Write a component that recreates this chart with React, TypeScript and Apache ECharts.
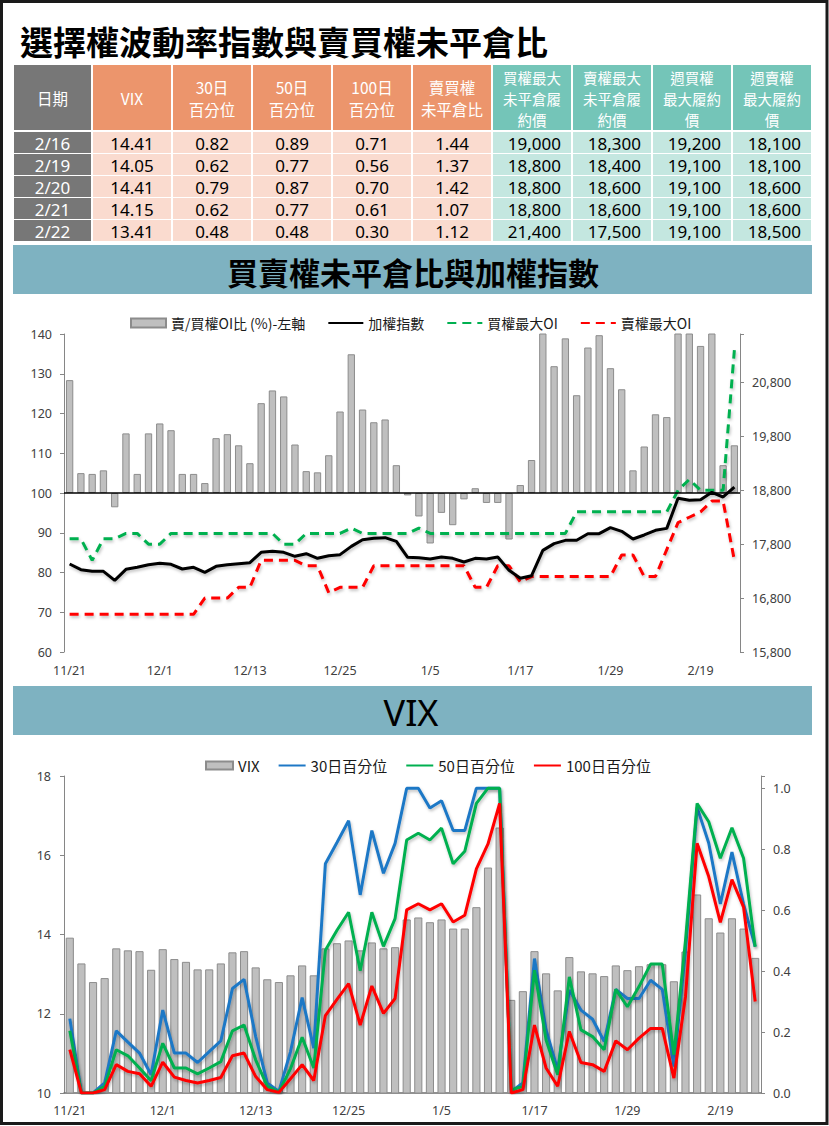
import { useEffect, useRef } from 'react';
import * as echarts from 'echarts';

// ---------- data ----------
const dates = ['11/21','11/22','11/23','11/24','11/27','11/28','11/29','11/30','12/1','12/4','12/5','12/6','12/7','12/8','12/11','12/12','12/13','12/14','12/15','12/18','12/19','12/20','12/21','12/22','12/25','12/26','12/27','12/28','12/29','1/2','1/3','1/4','1/5','1/8','1/9','1/10','1/11','1/12','1/15','1/16','1/17','1/18','1/19','1/22','1/23','1/24','1/25','1/26','1/29','1/30','1/31','2/1','2/2','2/5','2/15','2/16','2/19','2/20','2/21','2/22'];

const putCallRatio = [128.4,105.0,104.8,105.7,96.4,115.0,104.8,115.0,117.5,115.8,
  104.8,104.8,102.5,113.8,114.8,112.0,107.5,122.6,125.8,124.3,
  112.2,105.5,105.2,109.5,120.5,134.9,121.0,117.8,118.5,107.0,
  99.4,94.1,87.3,95.0,91.9,98.4,101.2,97.5,97.5,88.3,
  102.0,108.3,145.0,131.9,138.9,124.6,136.6,139.7,131.4,126.1,
  105.7,111.7,119.8,119.1,150.0,144.0,137.0,142.0,107.0,112.0];

const taiex = [17433,17327,17297,17297,17130,17334,17371,17420,17445,17426,
  17340,17371,17278,17389,17420,17439,17457,17649,17668,17649,
  17575,17624,17538,17587,17606,17760,17884,17909,17921,17853,
  17556,17550,17525,17562,17538,17470,17538,17525,17562,17315,
  17167,17216,17686,17810,17872,17872,17995,17995,18107,18039,
  17896,17971,18057,18094,18651,18614,18626,18762,18676,18861];

const callMaxOI = [17900,17900,17500,17900,17900,18000,18000,17800,17800,18000,
  18000,18000,18000,18000,18000,18000,18000,18000,18000,17800,
  17800,18000,18000,18000,18000,18100,18000,18000,18000,18000,
  18000,18100,18000,18000,18000,18000,18000,18000,18000,18000,
  18000,18000,18000,18000,18000,18400,18400,18400,18400,18400,
  18400,18400,18400,18400,18800,19000,18800,18800,18800,21400];

const putMaxOI = [16500,16500,16500,16500,16500,16500,16500,16500,16500,16500,
  16500,16500,16800,16800,16800,17000,17000,17500,17500,17500,
  17500,17400,17400,16900,17000,17000,17000,17400,17400,17400,
  17400,17400,17400,17400,17400,17400,17000,17000,17400,17400,
  17100,17200,17200,17200,17200,17200,17200,17200,17200,17600,
  17600,17200,17200,17700,18200,18300,18400,18600,18600,17500];

const vix = [13.92,13.27,12.80,12.90,13.65,13.60,13.58,13.11,13.63,13.38,
  13.31,13.12,13.12,13.27,13.55,13.58,13.17,12.87,12.80,12.97,
  13.22,12.97,13.65,13.78,13.85,13.60,13.80,13.65,13.68,14.38,
  14.43,14.31,14.38,14.15,14.15,14.69,15.69,16.70,12.35,12.57,
  13.58,13.02,12.59,13.43,13.07,13.02,12.95,13.22,13.10,13.20,
  13.25,13.25,12.82,13.57,15.01,14.41,14.05,14.41,14.15,13.41];

const pct30 = [0.244,0,0,0.033,0.204,0.167,0.131,0.06,0.272,0.131,
  0.131,0.10,0.136,0.171,0.343,0.373,0.185,0.033,0.005,0.136,
  0.313,0.147,0.752,0.822,0.893,0.650,0.861,0.721,0.819,1.0,
  1.0,0.935,0.959,0.861,0.861,1.0,1.0,1.0,0.005,0.033,
  0.441,0.207,0.076,0.338,0.272,0.242,0.169,0.340,0.310,0.310,
  0.370,0.340,0.087,0.47,0.937,0.82,0.62,0.79,0.62,0.48];

const pct50 = [0.204,0,0,0.022,0.142,0.122,0.082,0.04,0.163,0.082,
  0.082,0.063,0.082,0.103,0.204,0.223,0.109,0.022,0.003,0.08,
  0.183,0.082,0.468,0.534,0.593,0.401,0.593,0.481,0.572,0.830,
  0.852,0.830,0.869,0.752,0.793,0.95,1.0,1.0,0.01,0.022,
  0.403,0.174,0.06,0.381,0.207,0.185,0.142,0.340,0.283,0.349,
  0.423,0.423,0.125,0.50,0.95,0.89,0.77,0.87,0.77,0.48];

const pct100 = [0.142,0,0,0.011,0.093,0.071,0.063,0.022,0.101,0.052,
  0.041,0.033,0.041,0.051,0.122,0.131,0.054,0.011,0.002,0.047,
  0.093,0.041,0.254,0.307,0.359,0.223,0.351,0.261,0.310,0.601,
  0.621,0.601,0.621,0.561,0.583,0.735,0.817,0.95,0,0.011,
  0.223,0.082,0.022,0.202,0.10,0.093,0.071,0.171,0.142,0.18,
  0.212,0.212,0.049,0.316,0.819,0.71,0.56,0.70,0.61,0.30];

// table
const tableHeaders = ['日期','VIX','30日\n百分位','50日\n百分位','100日\n百分位','賣買權\n未平倉比','買權最大\n未平倉履\n約價','賣權最大\n未平倉履\n約價','週買權\n最大履約\n價','週賣權\n最大履約\n價'];
const tableDates = ['2/16','2/19','2/20','2/21','2/22'];
const tableVix = ['14.41','14.05','14.41','14.15','13.41'];
const table30 = ['0.82','0.62','0.79','0.62','0.48'];
const table50 = ['0.89','0.77','0.87','0.77','0.48'];
const table100 = ['0.71','0.56','0.70','0.61','0.30'];
const tablePCR = ['1.44','1.37','1.42','1.07','1.12'];
const tableCallMax = ['19,000','18,800','18,800','18,800','21,400'];
const tablePutMax = ['18,300','18,400','18,600','18,600','17,500'];
const tableWeekCall = ['19,200','19,100','19,100','19,100','19,100'];
const tableWeekPut = ['18,100','18,100','18,600','18,600','18,500'];

const titleText = '選擇權波動率指數與賣買權未平倉比';
const band1Text = '買賣權未平倉比與加權指數';
const band2Text = 'VIX';

// ---------- styling / layout ----------
const CJK = '"Noto Sans CJK TC", "Noto Sans", sans-serif';
const NUM = '"Noto Sans", "Noto Sans CJK TC", sans-serif';
const colX = [13, 92, 172, 252, 332, 412, 492, 572, 652, 732, 812];
const rowY = [65, 131, 153, 175, 197, 219, 241];
const GRAY_H = '#777777';
const ORANGE_H = '#EC956C';
const ORANGE_C = '#FADBCF';
const TEAL_H = '#74C5B8';
const TEAL_C = '#C4E7E0';
const BAND = '#7EB2C1';
const AXIS = '#868686';
const LABEL = '#404040';

function buildGraphic() {
  const els: any[] = [];
  const cols = [tableDates, tableVix, table30, table50, table100, tablePCR, tableCallMax, tablePutMax, tableWeekCall, tableWeekPut];
  els.push({
    type: 'text', left: 20, top: 24,
    style: { text: titleText, fontSize: 33, fontWeight: 'bold', fontFamily: CJK, fill: '#000' },
  });
  for (let c = 0; c < cols.length; c++) {
    const hColor = c === 0 ? GRAY_H : c <= 5 ? ORANGE_H : TEAL_H;
    const cColor = c === 0 ? GRAY_H : c <= 5 ? ORANGE_C : TEAL_C;
    const x0 = colX[c] + 1;
    const w = colX[c + 1] - colX[c] - 2;
    els.push({ type: 'rect', shape: { x: x0, y: rowY[0], width: w, height: rowY[1] - rowY[0] - 1 }, style: { fill: hColor } });
    const lines = tableHeaders[c].split('\n');
    const lh = lines.length === 3 ? 21 : 22;
    const fs = lines.length === 3 ? 14.5 : 15.5;
    const cy = (rowY[0] + rowY[1]) / 2;
    lines.forEach((ln, k) => {
      els.push({
        type: 'text',
        style: {
          text: ln, x: (colX[c] + colX[c + 1]) / 2, y: cy + (k - (lines.length - 1) / 2) * lh,
          align: 'center', verticalAlign: 'middle', textAlign: 'center', textVerticalAlign: 'middle',
          fill: '#fff', fontSize: fs, fontFamily: CJK,
        },
      });
    });
    for (let r = 0; r < cols[c].length; r++) {
      const y0 = rowY[r + 1] + 1;
      const h = rowY[r + 2] - rowY[r + 1] - 1;
      els.push({ type: 'rect', shape: { x: x0, y: y0, width: w, height: h }, style: { fill: cColor } });
      const right = c >= 6;
      els.push({
        type: 'text',
        style: {
          text: cols[c][r], x: right ? colX[c + 1] - 11 : (colX[c] + colX[c + 1]) / 2, y: y0 + h / 2 + 0.5,
          align: right ? 'right' : 'center', verticalAlign: 'middle',
          textAlign: right ? 'right' : 'center', textVerticalAlign: 'middle',
          fill: c === 0 ? '#fff' : '#000', fontSize: 17, fontFamily: NUM,
        },
      });
    }
  }
  // bands
  els.push({ type: 'rect', shape: { x: 13, y: 245, width: 799, height: 49 }, style: { fill: BAND } });
  els.push({
    type: 'text',
    style: { text: band1Text, x: 413, y: 271, align: 'center', verticalAlign: 'middle', textAlign: 'center', textVerticalAlign: 'middle', fontSize: 31, fontWeight: 'bold', fontFamily: CJK, fill: '#000' },
  });
  els.push({ type: 'rect', shape: { x: 13, y: 686, width: 799, height: 49 }, style: { fill: BAND } });
  els.push({
    type: 'text',
    style: { text: band2Text, x: 411, y: 712, align: 'center', verticalAlign: 'middle', textAlign: 'center', textVerticalAlign: 'middle', fontSize: 36, fontFamily: NUM, fill: '#000' },
  });
  // outer frame
  els.push({ type: 'rect', shape: { x: 1.5, y: 1.5, width: 825.5, height: 1122 }, style: { fill: 'none', stroke: '#1a1a1a', lineWidth: 3 }, z: 100 });
  return els;
}

function buildOption(): any {
  const axisLabelBase = { color: LABEL, fontSize: 12.5, fontFamily: NUM };
  const lineShadow = { shadowColor: 'rgba(0,0,0,0.25)', shadowBlur: 3, shadowOffsetX: 1, shadowOffsetY: 2 };
  const noSym = { opacity: 0 };
  return {
    animation: false,
    backgroundColor: '#fff',
    textStyle: { fontFamily: CJK },
    graphic: { elements: buildGraphic() },
    legend: [
      {
        left: 125, top: 311, itemGap: 22, itemWidth: 35, itemHeight: 9,
        textStyle: { fontSize: 14, color: '#1a1a1a', fontFamily: CJK },
        data: [
          { name: '賣/買權OI比 (%)-左軸', icon: 'rect' },
          { name: '加權指數', itemStyle: noSym },
          { name: '買權最大OI', itemStyle: noSym },
          { name: '賣權最大OI', itemStyle: noSym },
        ],
      },
      {
        left: 200, top: 753, itemGap: 18, itemWidth: 27, itemHeight: 8,
        textStyle: { fontSize: 15, color: '#1a1a1a', fontFamily: CJK },
        data: [
          { name: 'VIX', icon: 'rect' },
          { name: '30日百分位', itemStyle: noSym },
          { name: '50日百分位', itemStyle: noSym },
          { name: '100日百分位', itemStyle: noSym },
        ],
      },
    ],
    grid: [
      { left: 64, top: 334, width: 676, height: 318 },
      { left: 64, top: 776, width: 697, height: 317 },
    ],
    xAxis: [
      {
        type: 'category', gridIndex: 0, data: dates, boundaryGap: true,
        axisLine: { show: false, onZero: false }, axisTick: { show: false },
        axisLabel: { ...axisLabelBase, interval: 7, margin: 12 },
      },
      {
        type: 'category', gridIndex: 1, data: dates, boundaryGap: true,
        axisLine: { show: true, onZero: false, lineStyle: { color: '#6e6e6e', width: 1.5 } }, axisTick: { show: false },
        axisLabel: { ...axisLabelBase, interval: 7, margin: 11 },
      },
    ],
    yAxis: [
      {
        type: 'value', gridIndex: 0, position: 'left', min: -40, max: 40, interval: 10,
        axisLine: { show: true, lineStyle: { color: AXIS } }, axisTick: { show: true, length: 4, lineStyle: { color: AXIS } },
        splitLine: { show: false },
        axisLabel: { ...axisLabelBase, margin: 12, formatter: (v: number) => String(Math.round(v + 100)) },
      },
      {
        type: 'value', gridIndex: 0, position: 'right', min: 15800, max: 21700, interval: 1000,
        axisLine: { show: true, lineStyle: { color: AXIS } }, axisTick: { show: true, length: 4, lineStyle: { color: AXIS } },
        splitLine: { show: false },
        axisLabel: { ...axisLabelBase, margin: 12, formatter: (v: number) => ((Math.round(v) - 15800) % 1000 === 0 ? Math.round(v).toLocaleString('en-US') : '') },
      },
      {
        type: 'value', gridIndex: 1, position: 'left', min: 10, max: 18, interval: 2,
        axisLine: { show: true, lineStyle: { color: AXIS } }, axisTick: { show: true, length: 4, lineStyle: { color: AXIS } },
        splitLine: { show: false },
        axisLabel: { ...axisLabelBase, margin: 13 },
      },
      {
        type: 'value', gridIndex: 1, position: 'right', min: 0, max: 1.04, interval: 0.2,
        axisLine: { show: true, lineStyle: { color: AXIS } }, axisTick: { show: true, length: 4, lineStyle: { color: AXIS } },
        splitLine: { show: false },
        axisLabel: { ...axisLabelBase, margin: 12, formatter: (v: number) => (Math.abs(v * 5 - Math.round(v * 5)) < 1e-6 ? v.toFixed(1) : '') },
      },
    ],
    series: [
      {
        name: '賣/買權OI比 (%)-左軸', type: 'bar', xAxisIndex: 0, yAxisIndex: 0,
        data: putCallRatio.map((v) => +(v - 100).toFixed(2)),
        barCategoryGap: '35%', clip: true,
        itemStyle: { color: '#BFBFBF', borderColor: '#8C8C8C', borderWidth: 1 },
        markLine: {
          silent: true, symbol: ['none', 'none'], label: { show: false },
          lineStyle: { color: '#000', width: 1.5, type: 'solid' },
          data: [{ yAxis: 0 }],
        },
      },
      {
        name: '加權指數', type: 'line', xAxisIndex: 0, yAxisIndex: 1, data: taiex,
        symbol: 'none', color: '#000', lineStyle: { color: '#000', width: 3, ...lineShadow }, z: 5,
      },
      {
        name: '買權最大OI', type: 'line', xAxisIndex: 0, yAxisIndex: 1, data: callMaxOI,
        symbol: 'none', color: '#00B050', lineStyle: { color: '#00B050', width: 3, type: [9, 6], ...lineShadow }, z: 4,
      },
      {
        name: '賣權最大OI', type: 'line', xAxisIndex: 0, yAxisIndex: 1, data: putMaxOI,
        symbol: 'none', color: '#FF0000', lineStyle: { color: '#FF0000', width: 3, type: [9, 6], ...lineShadow }, z: 4,
      },
      {
        name: 'VIX', type: 'bar', xAxisIndex: 1, yAxisIndex: 2, data: vix,
        barCategoryGap: '30%', clip: true,
        itemStyle: { color: '#BFBFBF', borderColor: '#8C8C8C', borderWidth: 1 },
      },
      {
        name: '30日百分位', type: 'line', xAxisIndex: 1, yAxisIndex: 3, data: pct30,
        symbol: 'none', color: '#1E78C6', lineStyle: { color: '#1E78C6', width: 3, ...lineShadow }, z: 4,
      },
      {
        name: '50日百分位', type: 'line', xAxisIndex: 1, yAxisIndex: 3, data: pct50,
        symbol: 'none', color: '#00B050', lineStyle: { color: '#00B050', width: 3, ...lineShadow }, z: 5,
      },
      {
        name: '100日百分位', type: 'line', xAxisIndex: 1, yAxisIndex: 3, data: pct100,
        symbol: 'none', color: '#FF0000', lineStyle: { color: '#FF0000', width: 3, ...lineShadow }, z: 6,
      },
    ],
  };
}

export default function App() {
  const ref = useRef<HTMLDivElement>(null);
  useEffect(() => {
    const chart = echarts.init(ref.current!, null, { renderer: 'svg' });
    chart.setOption(buildOption());
    return () => chart.dispose();
  }, []);
  return (
    <div
      ref={ref}
      style={{ position: 'absolute', left: 0, top: 0, width: 829, height: 1126, background: '#fff' }}
    />
  );
}
